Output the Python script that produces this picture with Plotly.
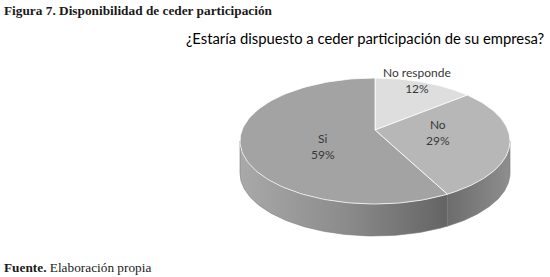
import numpy as np
import plotly.graph_objects as go

# ---- data ----
categories = ["No responde", "No", "Si"]
values = [12, 29, 59]
pct_labels = ["12%", "29%", "59%"]

title_text = "Figura 7. Disponibilidad de ceder participación"
chart_title = "¿Estaría dispuesto a ceder participación de su empresa?"
source_bold = "Fuente."
source_text = " Elaboración propia"

# ---- styling / geometry ----
top_colors = ["#dededf", "#b7b7b8", "#a3a3a4"]
side_scales = [
    None,
    [[0, "#6c6c6c"], [1, "#8e8e8e"]],
    [[0, "#a9a9a9"], [0.5, "#8c8c8c"], [1, "#646464"]],
]
label_r = [0.85, 0.47, 0.4]
label_dy = [0, 0, 9]
cx, cy, rx, ry, depth = 375, 141, 135, 63, 32
apex_y = 130  # projected centre of the pie (perspective)

W, H = 550, 277
fig = go.Figure()

total = float(sum(values))
starts = np.concatenate([[0], np.cumsum(values)[:-1]]) / total * 360
ends = np.cumsum(values) / total * 360


def pt(theta_deg, dy=0.0):
    t = np.radians(theta_deg)
    return cx + rx * np.sin(t), cy - ry * np.cos(t) + dy


# side faces (only front half: 90..270 deg clockwise from top)
for i, (a0, a1) in enumerate(zip(starts, ends)):
    s0, s1 = max(a0, 90), min(a1, 270)
    if s1 <= s0:
        continue
    th = np.linspace(s0, s1, 80)
    xt, yt = pt(th)
    xb, yb = pt(th[::-1], depth)
    xs = np.concatenate([xt, xb, [xt[0]]])
    ys = np.concatenate([yt, yb, [yt[0]]])
    fig.add_trace(go.Scatter(
        x=xs, y=ys, mode="lines", fill="toself",
        line=dict(width=0.6, color="#7a7a7a"),
        fillgradient=dict(type="horizontal", colorscale=side_scales[i]),
        hoverinfo="skip", showlegend=False))

# top faces
for i, (a0, a1) in enumerate(zip(starts, ends)):
    th = np.linspace(a0, a1, 120)
    xa, ya = pt(th)
    xs = np.concatenate([[cx], xa, [cx]])
    ys = np.concatenate([[apex_y], ya, [apex_y]])
    fig.add_trace(go.Scatter(
        x=xs, y=ys, mode="lines", fill="toself", fillcolor=top_colors[i],
        line=dict(width=0.8, color="#ffffff"),
        hoverinfo="skip", showlegend=False, name=categories[i]))

# labels
for i, (a0, a1) in enumerate(zip(starts, ends)):
    mid = np.radians((a0 + a1) / 2)
    lx = cx + rx * label_r[i] * np.sin(mid)
    ly = apex_y - ry * label_r[i] * np.cos(mid) + label_dy[i]
    fig.add_annotation(x=lx, y=ly, xref="x", yref="y",
                       text=f"{categories[i]}<br>{pct_labels[i]}",
                       showarrow=False,
                       font=dict(family="Lato, sans-serif", size=12, color="#383838"))

fig.add_annotation(x=2, y=10, xref="x", yref="y", xanchor="left", yanchor="middle",
                   text=f"<b>{title_text}</b>", showarrow=False,
                   font=dict(family="Liberation Serif, serif", size=13.3, color="#1a1a1a"))
fig.add_annotation(x=546, y=38, xref="x", yref="y", xanchor="right", yanchor="middle",
                   text=chart_title, showarrow=False,
                   font=dict(family="Lato, sans-serif", size=14.8, color="#000000"))
fig.add_annotation(x=2, y=267, xref="x", yref="y", xanchor="left", yanchor="middle",
                   text=f"<b>{source_bold}</b>{source_text}", showarrow=False,
                   font=dict(family="Liberation Serif, serif", size=13.3, color="#1a1a1a"))

fig.update_layout(
    width=W, height=H, margin=dict(l=0, r=0, t=0, b=0),
    paper_bgcolor="white", plot_bgcolor="white",
    xaxis=dict(range=[0, W], visible=False, fixedrange=True),
    yaxis=dict(range=[H, 0], visible=False, fixedrange=True),
)
fig.write_html("out.html", config={"displayModeBar": False},
               post_script="document.body.style.margin='0';document.body.style.overflow='hidden';")
